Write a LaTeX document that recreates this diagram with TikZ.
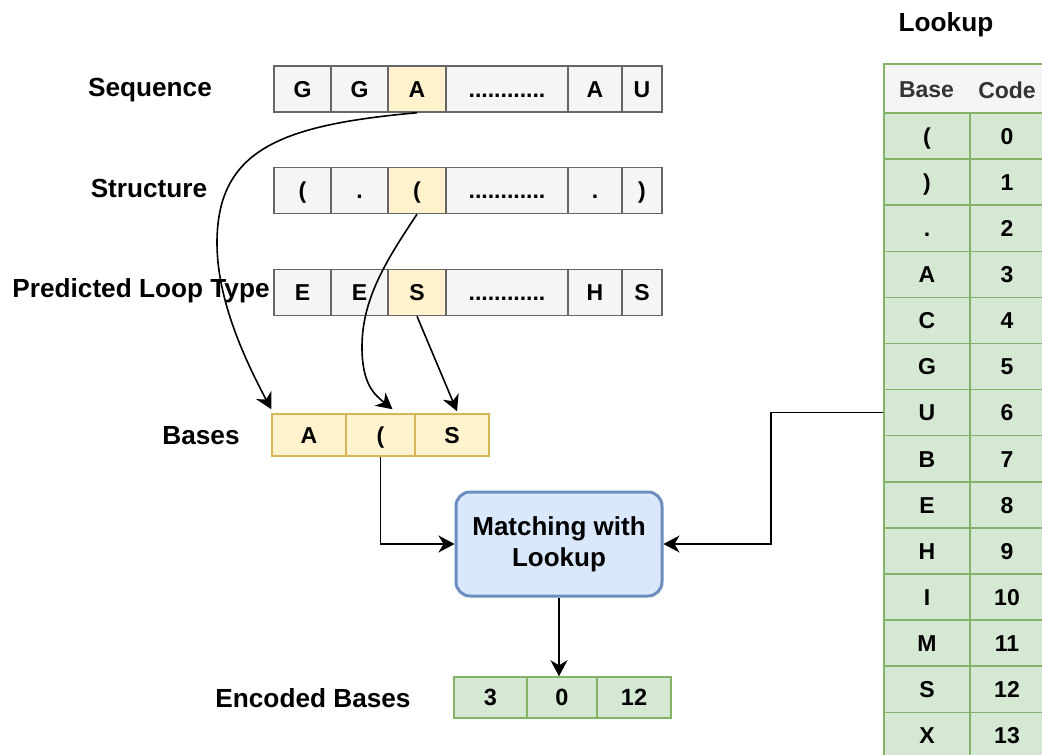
\documentclass[tikz,border=0pt]{standalone}
\usepackage{fontspec}
\setmainfont{Liberation Sans}
\usetikzlibrary{arrows.meta}
\definecolor{gst}{HTML}{666666}
\definecolor{gfl}{HTML}{F5F5F5}
\definecolor{yfl}{HTML}{FFF2CC}
\definecolor{yst}{HTML}{D6B656}
\definecolor{grfl}{HTML}{D5E8D4}
\definecolor{grst}{HTML}{82B366}
\definecolor{bfl}{HTML}{DAE8FC}
\definecolor{bst}{HTML}{6C8EBF}
\definecolor{hdtxt}{HTML}{333333}
\begin{document}
\begin{tikzpicture}[x=1pt,y=-1pt,
  cellbase/.style={draw, line width=1.5pt, inner sep=0pt, minimum height=46pt, text height=16.6pt, text depth=0pt, font=\fontsize{23}{26}\selectfont\bfseries},
  grey/.style={cellbase, draw=gst, fill=gfl},
  hl/.style={cellbase, draw=gst, fill=yfl},
  ycell/.style={cellbase, draw=yst, fill=yfl, minimum height=42pt, text height=16.6pt, font=\fontsize{23}{26}\selectfont\bfseries},
  gcell/.style={cellbase, draw=grst, fill=grfl, minimum height=41pt, text height=16.8pt, font=\fontsize{23.5}{26}\selectfont\bfseries},
  tcell/.style={cellbase, draw=grst, fill=grfl, minimum height=46.1pt, text height=16.6pt, font=\fontsize{23}{26}\selectfont\bfseries},
  lbl/.style={inner sep=0pt, font=\fontsize{26.2}{30}\selectfont\bfseries},
  dotsx/.style={font=\fontsize{23}{26}\selectfont\bfseries, text height=16pt},
  conn/.style={draw=black, line width=1.6pt},
  arr/.style={-{Stealth[length=16pt,width=17pt,inset=5pt]}}
]
\useasboundingbox (0,0) rectangle (1042,755);
\clip (0,0) rectangle (1042,755);

% labels
\node[lbl] (lSeq) at (150,90) {Sequence};
\node[lbl] (lStr) at (149,188) {Structure};
\node[lbl] (lLoop) at (141,291) {Predicted Loop Type};
\node[lbl] (lBases) at (201,436) {Bases};
\node[lbl] (lEnc) at (313,698) {Encoded Bases};
\node[lbl] (lLook) at (946,25) {Lookup};

% sequence row
\node[grey, minimum width=57pt] (s1) at (302.5,89) {G};
\node[grey, minimum width=57pt] (s2) at (359.5,89) {G};
\node[hl,   minimum width=58pt] (sA) at (417,89) {A};
\node[grey, minimum width=122pt, dotsx] (s4) at (507,89) {............};
\node[grey, minimum width=54pt] (s5) at (595,89) {A};
\node[grey, minimum width=40pt] (s6) at (642,89) {U};

% structure row
\node[grey, minimum width=57pt] (t1) at (302.5,190.5) {(};
\node[grey, minimum width=57pt] (t2) at (359.5,190.5) {.};
\node[hl,   minimum width=58pt] (tP) at (417,190.5) {(};
\node[grey, minimum width=122pt, dotsx] (t4) at (507,190.5) {............};
\node[grey, minimum width=54pt] (t5) at (595,190.5) {.};
\node[grey, minimum width=40pt] (t6) at (642,190.5) {)};

% loop type row
\node[grey, minimum width=57pt] (p1) at (302.5,292.5) {E};
\node[grey, minimum width=57pt] (p2) at (359.5,292.5) {E};
\node[hl,   minimum width=58pt] (pS) at (417,292.5) {S};
\node[grey, minimum width=122pt, dotsx] (p4) at (507,292.5) {............};
\node[grey, minimum width=54pt] (p5) at (595,292.5) {H};
\node[grey, minimum width=40pt] (p6) at (642,292.5) {S};

% bases
\node[ycell, minimum width=74pt] (bA) at (309,435) {A};
\node[ycell, minimum width=69pt] (bC) at (380.5,435) {(};
\node[ycell, minimum width=74pt] (bS) at (452,435) {S};

% matching
\node[draw=bst, fill=bfl, line width=3pt, rounded corners=14pt, minimum width=206pt, minimum height=104pt,
      align=center, inner sep=0pt, font=\fontsize{26}{31}\selectfont\bfseries] (match) at (559,544) {Matching with\\Lookup};

% encoded
\node[gcell, minimum width=73pt] (e1) at (490.5,697.5) {3};
\node[gcell, minimum width=70pt] (e0) at (562,697.5) {0};
\node[gcell, minimum width=74pt] (e2) at (634,697.5) {12};

% lookup table
\node[draw=grst, fill=gfl, line width=1.5pt, minimum width=160pt, minimum height=49pt, inner sep=0pt] (lhead) at (964,88.5) {};
\node[inner sep=0pt, text=hdtxt, font=\fontsize{23}{26}\selectfont\bfseries] (hBase) at (926.5,90) {Base};
\node[inner sep=0pt, text=hdtxt, font=\fontsize{23}{26}\selectfont\bfseries] (hCode) at (1007,90) {Code};
\foreach \b/\c/\n [count=\i from 0] in {{(}/0/lP, {)}/1/lQ, {.}/2/lD, A/3/lA, C/4/lCc, G/5/lG, U/6/lU, B/7/lB, E/8/lE, H/9/lH, I/10/lI, M/11/lM, S/12/lS, X/13/lX}{
  \node[tcell, minimum width=86pt] (\n) at (927,{113+46.1*(\i+0.5)}) {\b};
  \node[tcell, minimum width=74pt] (\n c) at (1007,{113+46.1*(\i+0.5)}) {\c};
}

% connectors
\draw[conn, arr] (sA.south) .. controls (280,125) and (217,150) .. (217,243)
   .. controls (217,300) and (245,360) .. ([yshift=4pt]bA.north west);
\draw[conn, arr] (tP.south) .. controls (385,262) and (362,300) .. (362,347)
   .. controls (362,385) and (375,395) .. ([xshift=12pt,yshift=4pt]bC.north);
\draw[conn, arr] (pS.south) -- ([xshift=5pt,yshift=2pt]bS.north);
\draw[conn, arr] (bC.south) |- (match.west);
\draw[conn, arr] (lU.west) -- ++(-112,0) |- (match.east);
\draw[conn, arr] (match.south) -- (match.south |- e0.north);
\end{tikzpicture}
\end{document}
